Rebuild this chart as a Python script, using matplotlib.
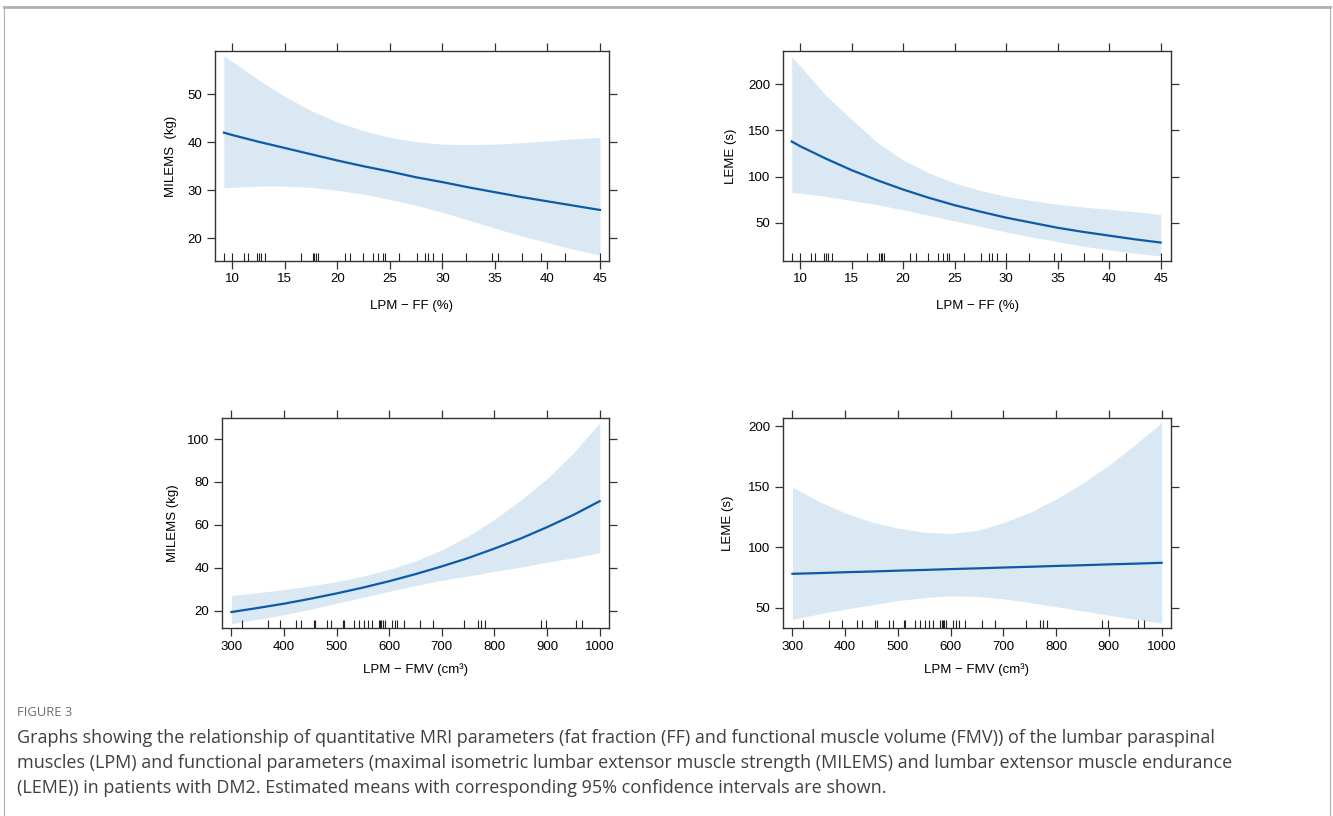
import numpy as np
import matplotlib
matplotlib.use('Agg')
import matplotlib.pyplot as plt
from matplotlib.lines import Line2D
import matplotlib.transforms as mtransforms

# ---- data ----
# fat fraction panels (top row)
ff_x = [9.2, 10, 12.5, 15, 17.5, 20, 22.5, 25, 27.5, 30, 32.5, 35, 37.5, 40, 42.5, 45]
milems_ff_fit = [42.0, 41.5, 40.1, 38.8, 37.5, 36.2, 35.0, 33.9, 32.7, 31.7, 30.6, 29.6, 28.6, 27.7, 26.8, 25.9]
milems_ff_hi = [58.0, 56.8, 53.0, 49.5, 46.6, 44.2, 42.4, 41.0, 40.1, 39.6, 39.5, 39.6, 39.9, 40.3, 40.7, 41.0]
milems_ff_lo = [30.5, 30.6, 30.9, 30.9, 30.6, 30.0, 29.2, 28.1, 26.9, 25.4, 23.8, 22.1, 20.5, 19.1, 17.7, 16.5]

leme_ff_fit = [138, 133, 119.5, 107, 96, 86, 77, 69, 62, 55.5, 50, 44.5, 40, 36, 32, 28.5]
leme_ff_hi = [230, 220, 188, 162, 137, 118, 104, 93, 85, 78.5, 74, 70, 67, 64.5, 62, 59]
leme_ff_lo = [83, 82, 78.5, 74, 69.5, 64, 58, 52, 46, 40, 34.5, 29.5, 24.5, 20.5, 17, 14]

# functional muscle volume panels (bottom row)
fmv_x = [300, 350, 400, 450, 500, 550, 600, 650, 700, 750, 800, 850, 900, 950, 1000]
milems_fmv_fit = [19.3, 21.2, 23.2, 25.5, 28.0, 30.7, 33.7, 37.0, 40.6, 44.5, 48.9, 53.6, 58.9, 64.6, 71.0]
milems_fmv_hi = [27, 28.3, 29.8, 31.5, 33.5, 36, 39.2, 43.2, 48.3, 54.8, 62.5, 71.5, 81.5, 93.5, 107.5]
milems_fmv_lo = [13.8, 15.9, 18.1, 20.6, 23.4, 26.2, 29.0, 31.7, 34.1, 36.1, 38.3, 40.2, 42.6, 44.6, 46.9]

leme_fmv_fit = [78.2, 78.8, 79.5, 80.1, 80.8, 81.4, 82.1, 82.7, 83.4, 84.0, 84.7, 85.3, 86.0, 86.6, 87.3]
leme_fmv_hi = [150, 138, 128.5, 121, 116, 112.5, 111.5, 114, 120.5, 129, 140, 153, 168, 185, 203]
leme_fmv_lo = [40.5, 45, 49, 52.5, 56, 58.5, 60, 59.5, 57.5, 54.5, 51, 47.5, 44, 40.5, 37.5]

# rug (observed values)
ff_rug = [9.18, 10.0, 11.11, 11.49, 12.31, 12.53, 12.75, 13.07, 16.49, 17.66, 17.82, 17.97, 18.16,
          20.70, 21.23, 22.44, 23.39, 23.89, 24.30, 24.49, 25.89, 27.56, 28.35, 28.67, 29.15,
          30.0, 32.22, 34.68, 35.32, 37.59, 39.34, 41.65, 45.0]
fmv_rug = [320.9, 369.7, 393.1, 422.2, 431.7, 457.1, 459.6, 482.4, 490.0, 512.2, 514.1, 532.4,
           541.9, 551.4, 559.7, 567.3, 579.9, 583.1, 585.0, 588.2, 591.3, 605.3, 610.3, 615.4,
           627.4, 659.1, 683.2, 742.1, 768.7, 775.0, 782.6, 887.7, 898.5, 955.5, 966.9]

ff_ticks = [10, 15, 20, 25, 30, 35, 40, 45]
fmv_ticks = [300, 400, 500, 600, 700, 800, 900, 1000]

caption_title = 'FIGURE 3'
caption_lines = [
    'Graphs showing the relationship of quantitative MRI parameters (fat fraction (FF) and functional muscle volume (FMV)) of the lumbar paraspinal',
    'muscles (LPM) and functional parameters (maximal isometric lumbar extensor muscle strength (MILEMS) and lumbar extensor muscle endurance',
    '(LEME)) in patients with DM2. Estimated means with corresponding 95% confidence intervals are shown.',
]

LINE_C = '#0d5ba6'
BAND_C = '#d9e8f2'
FRAME_C = '#333333'

W, H = 1333, 816
plt.rcParams['font.family'] = ['Liberation Sans', 'DejaVu Sans']

fig = plt.figure(figsize=(W / 100, H / 100), dpi=100)


def rect(x0, y0, x1, y1):
    # pixel box (top-left origin) -> figure fraction
    return [x0 / W, 1 - y1 / H, (x1 - x0) / W, (y1 - y0) / H]


def panel(box, x, fit, lo, hi, rug, xticks, xlim, yticks, ylim, xlabel, ylabel, ylab_x, xlab_y):
    ax = fig.add_axes(rect(*box))
    ax.fill_between(x, lo, hi, color=BAND_C, lw=0)
    ax.plot(x, fit, color=LINE_C, lw=1.6)
    # rug along the bottom
    trans = mtransforms.blended_transform_factory(ax.transData, ax.transAxes)
    ax.vlines(rug, 0, 0.038, colors='#222222', lw=0.8, transform=trans)
    ax.set_xlim(*xlim)
    ax.set_ylim(*ylim)
    ax.set_xticks(xticks)
    ax.set_yticks(yticks)
    ax.tick_params(direction='out', length=6, width=0.9, color=FRAME_C, labelsize=9.5,
                   top=True, right=True, labeltop=False, labelright=False, pad=3)
    for s in ax.spines.values():
        s.set_color(FRAME_C)
        s.set_linewidth(1.0)
    ax.set_xlabel(xlabel, fontsize=9.5)
    ax.set_ylabel(ylabel, fontsize=9.5)
    ax.yaxis.set_label_coords(ylab_x, 0.5)
    ax.xaxis.set_label_coords(0.5, xlab_y)
    return ax


panel((215, 51, 609, 261), ff_x, milems_ff_fit, milems_ff_lo, milems_ff_hi, ff_rug,
      ff_ticks, (8.35, 45.86), [20, 30, 40, 50], (15.27, 59.0),
      'LPM \u2212 FF (%)', 'MILEMS  (kg)', -0.096, -0.185)
panel((783, 51, 1171, 261), ff_x, leme_ff_fit, leme_ff_lo, leme_ff_hi, ff_rug,
      ff_ticks, (8.35, 46.0), [50, 100, 150, 200], (8.5, 236.1),
      'LPM \u2212 FF (%)', 'LEME (s)', -0.119, -0.185)
panel((222, 418, 609, 628), fmv_x, milems_fmv_fit, milems_fmv_lo, milems_fmv_hi, fmv_rug,
      fmv_ticks, (282.1, 1017.7), [20, 40, 60, 80, 100], (11.86, 109.8),
      'LPM \u2212 FMV (cm\u00b3)', 'MILEMS (kg)', -0.111, -0.168)
panel((783, 418, 1171, 628), fmv_x, leme_fmv_fit, leme_fmv_lo, leme_fmv_hi, fmv_rug,
      fmv_ticks, (282.1, 1017.7), [50, 100, 150, 200], (33.4, 207.0),
      'LPM \u2212 FMV (cm\u00b3)', 'LEME (s)', -0.126, -0.168)

# caption
fig.text(17 / W, 1 - 712 / H, caption_title, fontsize=9.4, color='#6e6e6e',
         family=['Open Sans', 'DejaVu Sans'], va='center', ha='left')
for i, line in enumerate(caption_lines):
    fig.text(17 / W, 1 - (738 + 25 * i) / H, line, fontsize=13.0, color='#404040',
             family=['Open Sans', 'DejaVu Sans'], va='center', ha='left')

# thin frame around the figure
for xs, ys, lw in [((4, 1330), (6.5, 6.5), 2.0), ((4, 4), (6, 816), 0.8), ((1330, 1330), (6, 816), 0.8)]:
    fig.add_artist(Line2D([x / W for x in xs], [1 - y / H for y in ys], color='#b0b0b0', lw=lw))

fig.savefig('out.png', dpi=100)
